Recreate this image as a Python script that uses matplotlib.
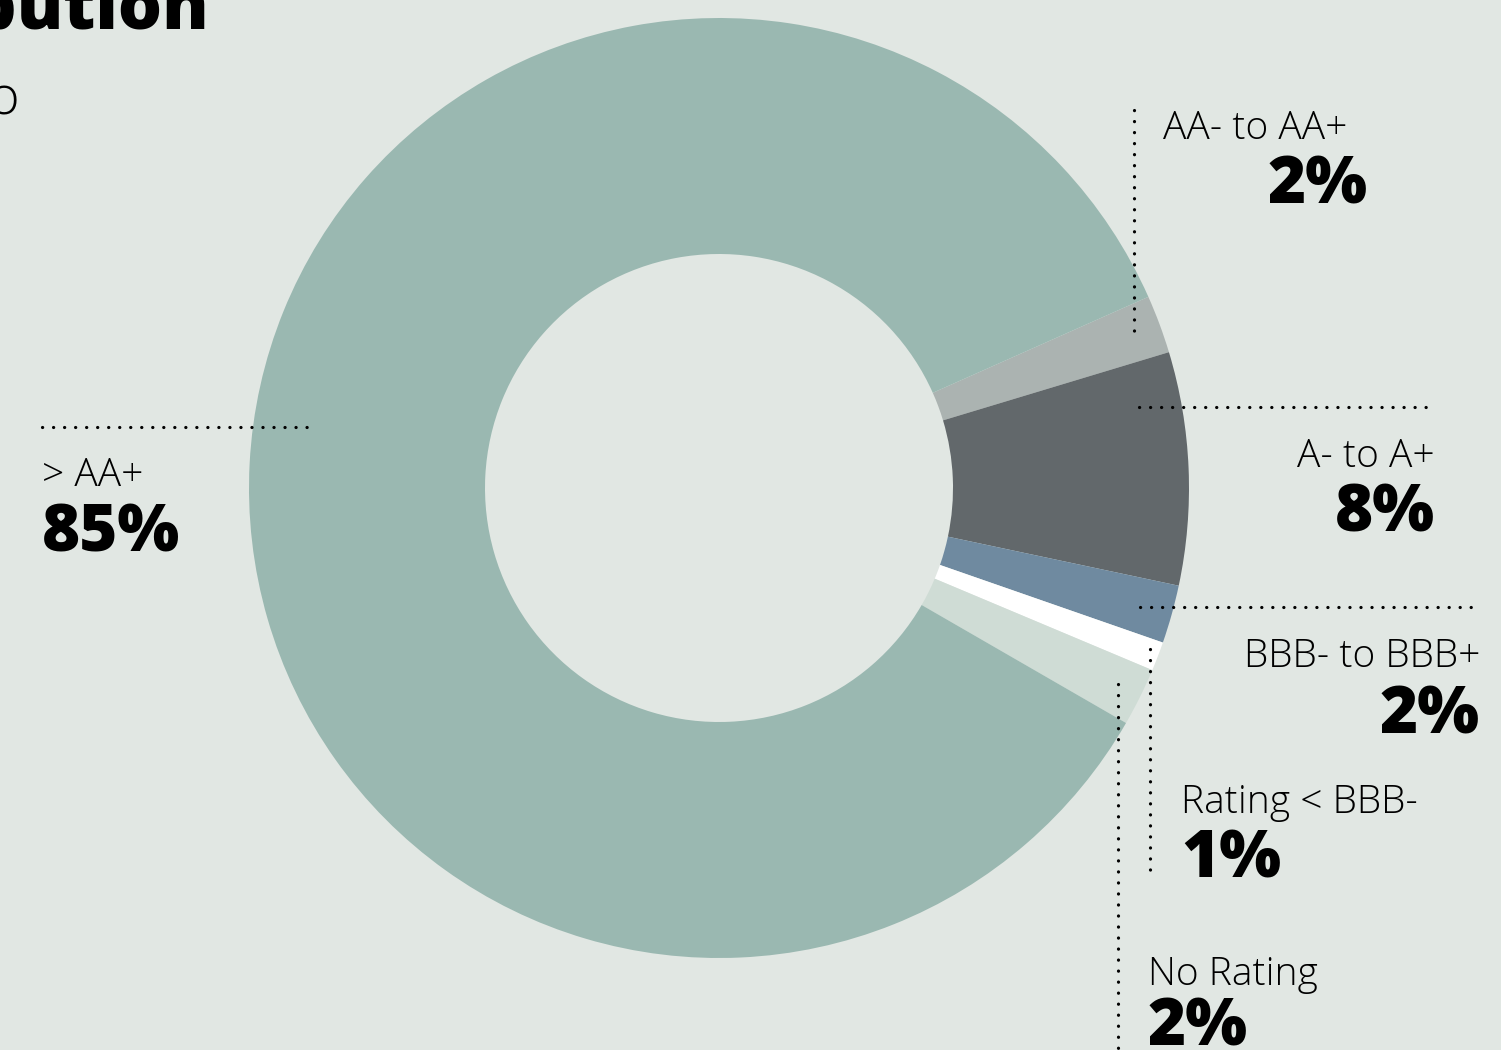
import matplotlib
matplotlib.use("Agg")
import matplotlib.pyplot as plt

# ---- data ----
categories = ["AA- to AA+", "A- to A+", "BBB- to BBB+", "Rating < BBB-", "No Rating", "> AA+"]
shares = [2, 8, 2, 1, 2, 85]
pct_labels = ["2%", "8%", "2%", "1%", "2%", "85%"]
colors = ["#abb3b1", "#62686b", "#6f8aa0", "#ffffff", "#cfdcd5", "#9ab8b1"]

BG = "#e1e7e3"
W, H = 1501, 1050

fig = plt.figure(figsize=(W / 100, H / 100), dpi=100, facecolor=BG)
ax = fig.add_axes([0, 0, 1, 1])
ax.set_facecolor(BG)

def Y(y):
    return H - y

cx, cy, R = 719, 488, 470
ax.pie(shares, colors=colors, startangle=24.0, counterclock=False,
       center=(cx, Y(cy)), radius=R, frame=True,
       wedgeprops=dict(width=236, linewidth=0))
ax.set_xlim(0, W)
ax.set_ylim(0, H)
ax.set_aspect("equal")
ax.axis("off")

LIGHT = dict(family=["Open Sans", "DejaVu Sans"], weight=300, color="black")
BOLD = dict(family=["Open Sans", "DejaVu Sans"], weight=800, color="black")
lab_fs = 28
pct_fs = 47

# title / subtitle fragments (cropped in reference)
ax.text(209, Y(29), "Rating distribution", ha="right", va="baseline", fontsize=50,
        **BOLD)
ax.text(20, Y(114), "Portfolio", ha="right", va="baseline", fontsize=38, **LIGHT)

# labels: (index, pct x, label baseline, pct baseline, ha, label x override)
layout = [
    (0, 1368, 139, 204, "right", 1163),
    (1, 1435, 467, 532, "right", None),
    (2, 1480, 667, 733, "right", None),
    (3, 1181, 813, 877, "left", None),
    (4, 1148, 985, 1046, "left", None),
    (5, 42, 486, 551, "left", None),
]
for idx, x, yl, yp, ha, xl in layout:
    lx = xl if xl is not None else x
    lha = "left" if xl is not None else ha
    ax.text(lx, Y(yl), categories[idx], ha=lha, va="baseline", fontsize=lab_fs, **LIGHT)
    ax.text(x, Y(yp), pct_labels[idx], ha=ha, va="baseline", fontsize=pct_fs, **BOLD)

# dotted leader lines
dot = dict(color="black", linewidth=2.3, linestyle=(0, (0.05, 3.4)),
           dash_capstyle="round", solid_capstyle="round")
ax.plot([1134, 1134], [Y(110), Y(334)], **dot)
ax.plot([1139, 1436], [Y(407), Y(407)], **dot)
ax.plot([1140, 1481], [Y(607), Y(607)], **dot)
ax.plot([1150, 1150], [Y(649), Y(877)], **dot)
ax.plot([1118, 1118], [Y(684), Y(1052)], **dot)
ax.plot([42, 311], [Y(427), Y(427)], **dot)

fig.savefig("out.png", dpi=100, facecolor=BG)
